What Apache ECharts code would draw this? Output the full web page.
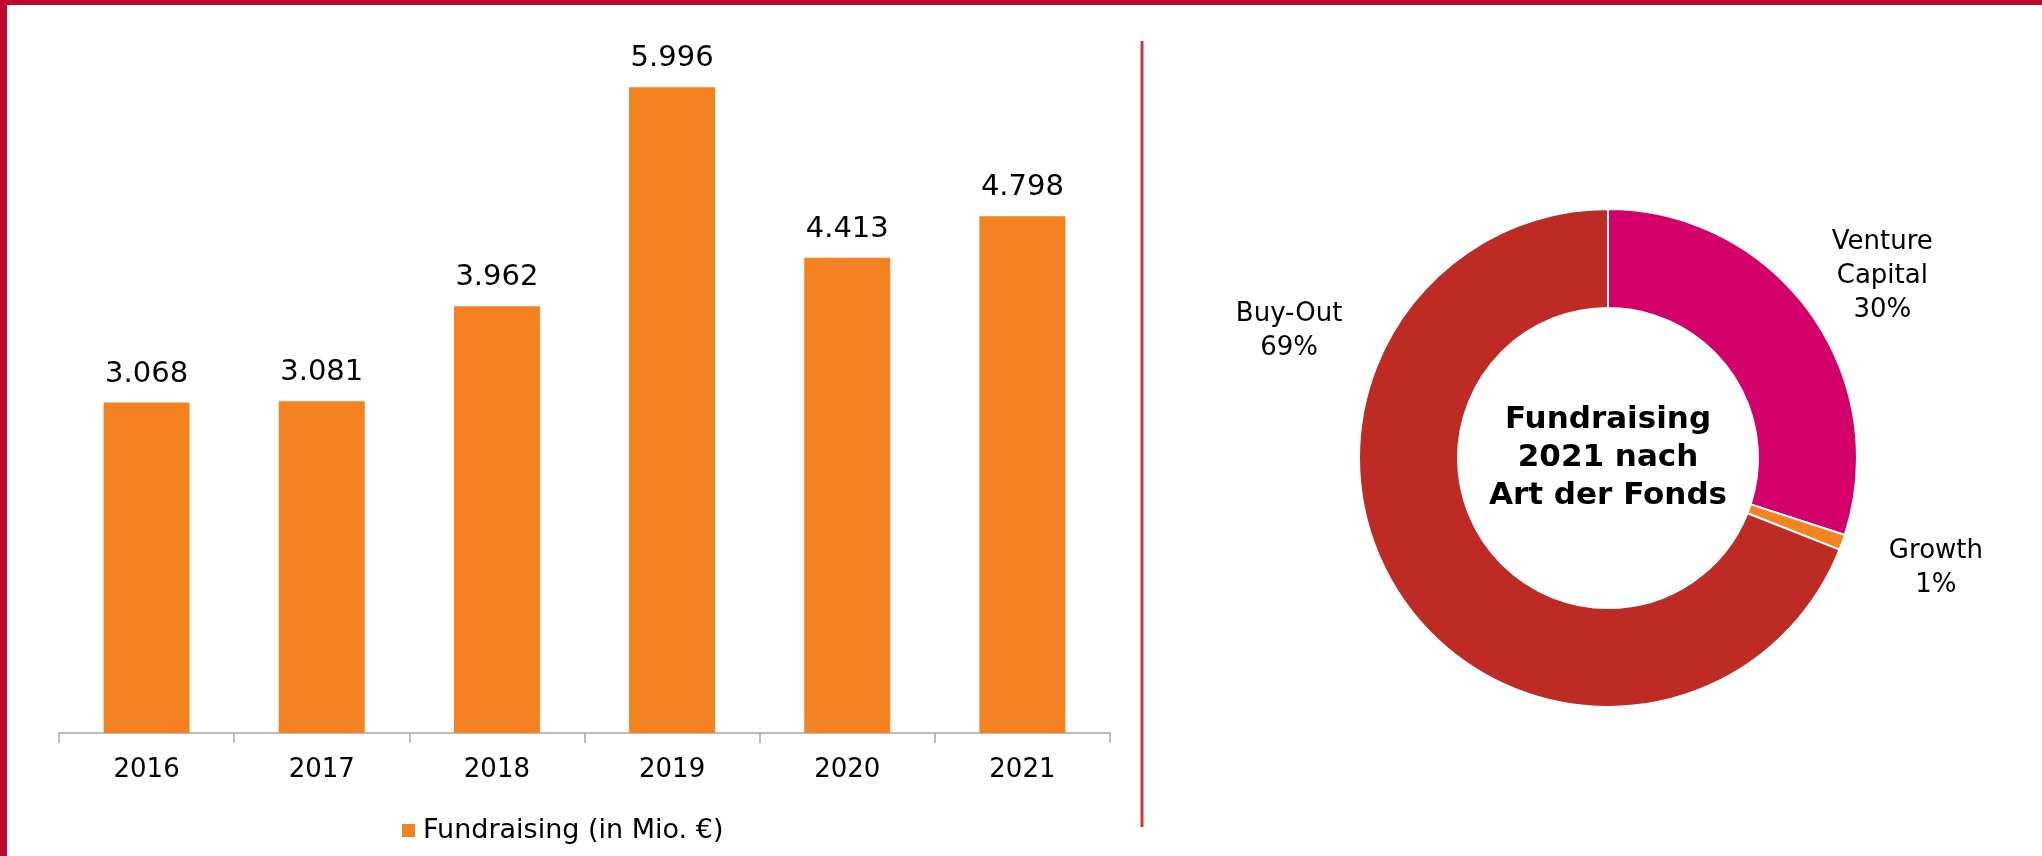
<!DOCTYPE html>
<html>
<head>
<meta charset="utf-8">
<script src="https://cdn.jsdelivr.net/npm/echarts@6/dist/echarts.min.js"></script>
<style>
html,body{margin:0;padding:0;background:#fff;}
#c{width:2042px;height:856px;}
</style>
</head>
<body>
<div id="c"></div>
<script>
// Data
const years = ['2016', '2017', '2018', '2019', '2020', '2021'];
const fundraising = [3.068, 3.081, 3.962, 5.996, 4.413, 4.798];
const fundTypes = ['Venture\nCapital', 'Growth', 'Buy-Out'];
const fundShares = [30, 1, 69];
const legendLabel = 'Fundraising (in Mio. €)';
const centerTitle = 'Fundraising\n2021 nach\nArt der Fonds';

const FONT = '"DejaVu Sans", Verdana, sans-serif';
const pieCenter = [1608, 458];
// label anchor positions around the donut (angle in degrees, radius in px)
const labelPolar = [[33.5, 329], [-18.6, 346], [158.4, 343]];

const chart = echarts.init(document.getElementById('c'), null, {renderer: 'canvas'});

const numFmt = v => v.toFixed(3);

chart.setOption({
  animation: false,
  backgroundColor: '#ffffff',
  textStyle: {fontFamily: FONT},
  grid: {left: 59, top: 33, width: 1051, bottom: 123, containLabel: false},
  legend: {
    data: [legendLabel],
    left: 397, top: 812,
    icon: 'rect', itemWidth: 13, itemHeight: 13, itemGap: 10,
    textStyle: {fontFamily: FONT, fontSize: 27, color: '#000', padding: [0, 0, 0, 3]}
  },
  xAxis: {
    type: 'category',
    data: years,
    axisLine: {show: true, lineStyle: {color: '#a6a6a6', width: 1.5}},
    axisTick: {show: true, alignWithLabel: false, length: 10, lineStyle: {color: '#a6a6a6', width: 1.5}},
    axisLabel: {color: '#000', fontFamily: FONT, fontSize: 26, margin: 24}
  },
  yAxis: {
    type: 'value', min: 0, max: 6.5, show: false,
    splitLine: {show: false}
  },
  series: [
    {
      name: legendLabel,
      type: 'bar',
      data: fundraising,
      barWidth: 86,
      itemStyle: {color: '#f58220'},
      label: {
        show: true, position: 'top', distance: 14,
        color: '#000', fontFamily: FONT, fontSize: 29,
        formatter: p => numFmt(p.value)
      }
    },
    {
      name: 'Art der Fonds',
      type: 'pie',
      center: pieCenter,
      radius: [150, 249],
      startAngle: 90,
      clockwise: true,
      avoidLabelOverlap: false,
      data: fundTypes.map((n, i) => ({name: n, value: fundShares[i]})),
      color: ['#d4006a', '#f58220', '#be2a24'],
      itemStyle: {borderColor: '#fff', borderWidth: 2},
      label: {
        show: true, position: 'outside',
        color: '#000', fontFamily: FONT, fontSize: 26, lineHeight: 34,
        align: 'center',
        formatter: p => p.name + '\n' + p.value + '%'
      },
      labelLine: {show: false},
      labelLayout: function (p) {
        const lp = labelPolar[p.dataIndex];
        const a = lp[0] * Math.PI / 180;
        return {
          x: pieCenter[0] + lp[1] * Math.cos(a),
          y: pieCenter[1] - lp[1] * Math.sin(a),
          align: 'center', verticalAlign: 'middle'
        };
      },
      emphasis: {disabled: true}
    }
  ],
  graphic: [
    {type: 'rect', shape: {x: 0, y: 0, width: 2042, height: 5}, style: {fill: '#be0a2e'}, silent: true},
    {type: 'rect', shape: {x: 0, y: 0, width: 7, height: 856}, style: {fill: '#be0a2e'}, silent: true},
    {type: 'line', shape: {x1: 1142, y1: 41, x2: 1142, y2: 827}, style: {stroke: '#cd3636', lineWidth: 3}, silent: true},
    {
      type: 'text', x: pieCenter[0], y: pieCenter[1], silent: true,
      style: {
        text: centerTitle, fill: '#000', font: 'bold 31px ' + FONT,
        lineHeight: 38, align: 'center', verticalAlign: 'middle'
      }
    }
  ]
});
</script>
</body>
</html>
